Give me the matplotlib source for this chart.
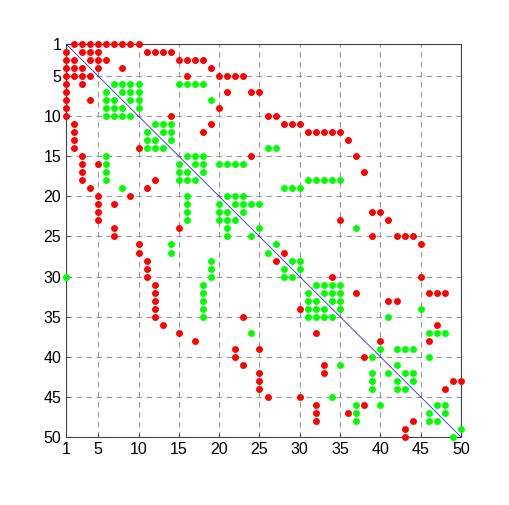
import matplotlib.pyplot as plt
import numpy as np

plt.rcParams['font.family'] = ['Liberation Sans', 'DejaVu Sans']

n = 50
ticks = [1, 5, 10, 15, 20, 25, 30, 35, 40, 45, 50]

# symmetric pattern, upper triangle only (row -> cols), 1-based
red_rows = [1, 2, 3, 4, 5, 7, 9, 10, 11, 12, 13, 15, 17, 22, 23, 25, 26, 27,
            30, 32, 33, 36, 38, 43, 44]
red_cols = [[2, 3, 4, 5, 6, 7, 8, 9, 10],
            [3, 4, 5, 11, 12, 13, 14],
            [4, 5, 6, 15, 16, 17, 18],
            [5, 8, 19],
            [16, 20, 21, 22, 23],
            [21, 24, 25],
            [20],
            [14, 26, 27],
            [19, 28, 29, 30],
            [18, 31, 32, 33, 34, 35],
            [36],
            [24, 37],
            [38],
            [39, 40],
            [35, 41],
            [39, 42, 43, 44],
            [45],
            [28],
            [34, 45],
            [37, 46, 47, 48],
            [41, 42],
            [47],
            [40, 46],
            [49, 50],
            [48]]

green_rows = [6, 7, 8, 9, 11, 12, 13, 14, 15, 16, 17, 18, 19, 20, 21, 22, 24,
              26, 28, 29, 31, 32, 33, 34, 35, 37, 39, 40, 41, 42, 43, 46, 47, 49]
green_cols = [[7, 8, 9, 10, 15, 16, 17, 18],
              [8, 9, 10],
              [9, 10, 19],
              [10],
              [12, 13, 14],
              [13, 14],
              [14],
              [26, 27],
              [16, 17, 18],
              [17, 18, 20, 21, 22, 23],
              [18],
              [31, 32, 33, 34, 35],
              [28, 29, 30],
              [21, 22, 23],
              [22, 23, 24, 25],
              [23],
              [25, 37],
              [27],
              [29, 30],
              [30],
              [32, 33, 34, 35],
              [33, 34, 35],
              [34, 35],
              [35, 45],
              [41],
              [46, 47, 48],
              [40, 42, 43, 44],
              [46],
              [42],
              [43, 44],
              [44],
              [47, 48],
              [48],
              [50]]

# single entry seen only below the diagonal
green_extra = [(30, 1)]


def build(rows, cols):
    A = np.zeros((n, n), dtype=bool)
    for r, cs in zip(rows, cols):
        for c in cs:
            A[r-1, c-1] = True
            A[c-1, r-1] = True
    return A


R = build(red_rows, red_cols)
G = build(green_rows, green_cols)
for r, c in green_extra:
    G[r-1, c-1] = True

fig = plt.figure(figsize=(5.1, 5.05), dpi=100)
ax = fig.add_axes([0.1294, 0.1347, 0.7745, 0.7782])

gi, gj = np.nonzero(G)
ri, rj = np.nonzero(R)
ax.plot(gj+1, gi+1, 'o', color='#00ff00', ms=5, mew=0, clip_on=False, zorder=3)
ax.plot(rj+1, ri+1, 'o', color='#ff0000', ms=5, mew=0, clip_on=False, zorder=3)
ax.plot([1, n], [1, n], color='blue', lw=0.5, zorder=4)

ax.set_xlim(1, n)
ax.set_ylim(n, 1)
ax.set_xticks(ticks)
ax.set_yticks(ticks)
ax.tick_params(direction='in', length=3, labelsize=11.5, color='#555555')
ax.grid(True, color='#999999', ls=(0, (5, 4)), lw=0.8)
for s in ax.spines.values():
    s.set_color('#444444')
    s.set_linewidth(0.8)

fig.savefig('out.png', dpi=100)
